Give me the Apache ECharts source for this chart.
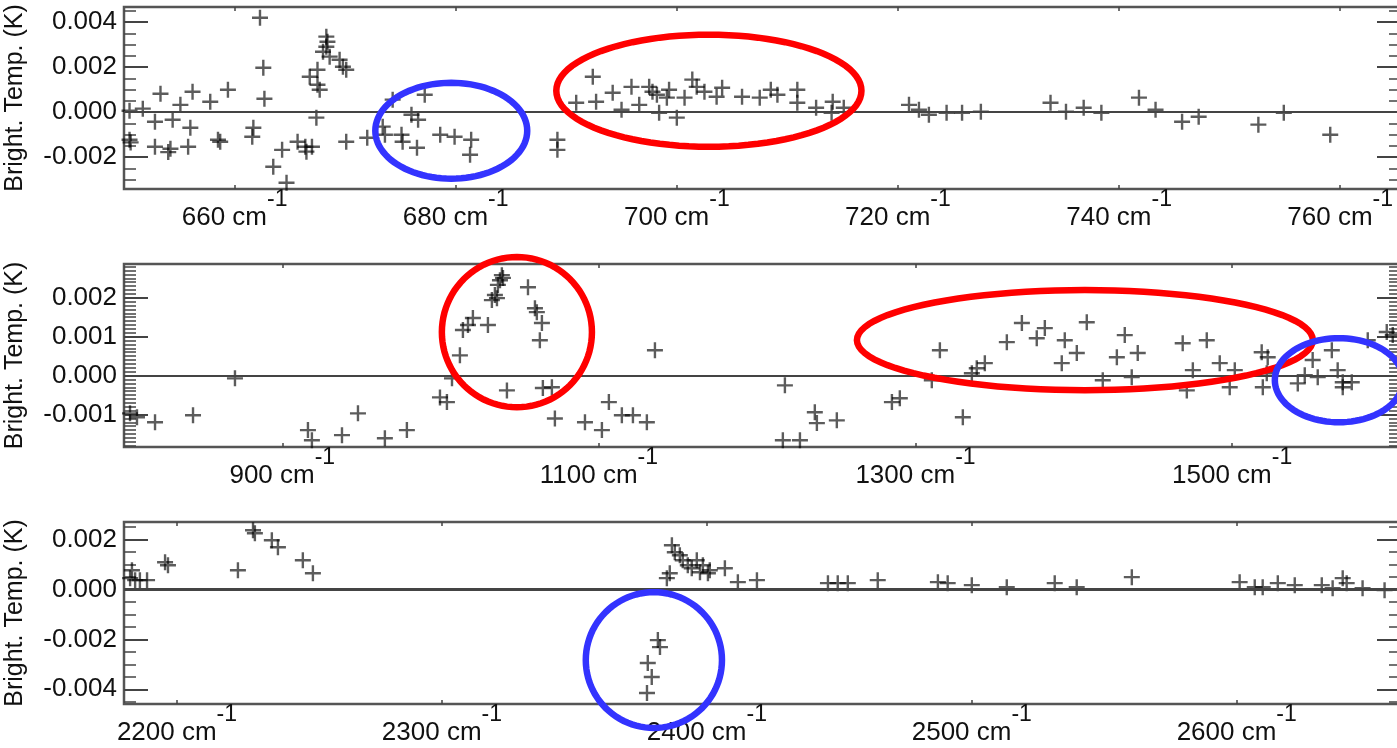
<!DOCTYPE html>
<html><head><meta charset="utf-8">
<script src="https://cdn.jsdelivr.net/npm/echarts@6/dist/echarts.min.js"></script>
<style>html,body{margin:0;padding:0;background:#fff}#c{width:1397px;height:748px}</style>
</head><body><div id="c"></div>
<script>
// ---------- Panel 1 (650-765 cm-1) ----------
const p1Wn = [650.5,651.7,650.5,650.6,653.3,652.8,652.8,654.2,654.0,654.4,655.1,656.0,655.8,656.2,657.8,659.4,658.5,658.7,661.7,661.6,
  662.3,662.6,662.7,663.5,664.3,664.7,665.7,666.4,666.5,667.0,666.8,667.5,667.7,667.5,667.4,668.3,668.4,668.3,668.0,668.6,
  669.5,669.8,670.1,670.1,672.0,673.4,673.6,674.3,675.1,675.2,676.0,676.6,676.5,677.2,678.6,679.9,681.4,681.3,689.2,689.2,
  690.9,692.4,692.7,694.2,695.0,695.9,696.6,697.5,697.8,698.2,698.4,699.1,699.3,700.0,700.7,701.4,701.8,702.5,703.6,704.1,
  705.9,707.5,708.5,709.1,710.9,710.9,712.6,714.1,714.0,715.1,721.0,721.9,722.8,724.4,725.8,727.5,733.8,735.2,736.8,738.4,
  741.8,743.3,745.7,747.2,752.6,754.9,759.1];
const p1Dt = [0.00006,0.00015,-0.00123,-0.00135,0.00081,-0.00043,-0.00154,-0.00163,-0.00178,-0.00034,0.00032,-0.00070,-0.00154,0.00090,0.00046,0.00099,-0.00123,-0.00132,-0.00070,-0.00110,
  0.00419,0.00197,0.00059,-0.00243,-0.00168,-0.00314,-0.00132,-0.00154,-0.00176,-0.00154,0.00157,0.00121,0.00099,0.00188,-0.00025,0.00335,0.00312,0.00290,0.00268,0.00246,
  0.00232,0.00201,0.00188,-0.00132,-0.00114,-0.00065,-0.00101,0.00055,-0.00101,-0.00132,-0.00012,-0.00034,-0.00159,0.00077,-0.00101,-0.00110,-0.00123,-0.00190,-0.00123,-0.00168,
  0.00041,0.00157,0.00046,0.00086,0.00010,0.00112,0.00032,0.00112,0.00090,0.00077,-0.00003,0.00064,0.00099,-0.00025,0.00064,0.00144,0.00112,0.00090,0.00068,0.00108,
  0.00068,0.00064,0.00099,0.00077,0.00099,0.00041,0.00019,0.00046,-0.00003,0.00019,0.00032,0.00010,-0.00012,-0.00003,-0.00003,0.00001,0.00041,0.00001,0.00019,-0.00003,
  0.00064,0.00010,-0.00043,-0.00021,-0.00056,-0.00003,-0.00101];
const p1XTicks = [660,680,700,720,740,760];
const p1YTicks = [-0.002,0,0.002,0.004];

// ---------- Panel 2 (800-1605 cm-1) ----------
const p2Wn = [803.8,808.2,819.6,843.6,870.1,916.2,918.7,937.7,947.8,964.8,978.7,999.6,1004.0,1007.2,1012.2,1014.1,1017.3,1020.4,1029.9,1032.4,
  1034.3,1035.6,1036.2,1037.5,1038.7,1039.4,1041.9,1055.2,1059.6,1060.8,1064.0,1062.7,1064.6,1070.3,1072.2,1091.2,1101.9,1106.3,1114.5,1121.5,
  1130.3,1135.4,1217.5,1216.2,1227.0,1236.4,1237.7,1250.3,1285.1,1290.1,1310.3,1315.4,1329.9,1335.6,1338.7,1343.8,1357.7,1367.2,1376.6,1381.7,
  1392.4,1394.3,1401.9,1408.2,1418.3,1427.2,1432.2,1436.6,1440.4,1468.8,1471.4,1475.2,1484.0,1492.2,1498.5,1501.7,1518.7,1519.4,1522.5,1521.9,
  1541.5,1545.9,1550.9,1554.1,1563.0,1566.7,1569.9,1575.6,1569.9,1585.7,1597.7,1601.5];
const p2Dt = [-0.00097,-0.00107,-0.00120,-0.00102,-0.00007,-0.00140,-0.00166,-0.00153,-0.00097,-0.00161,-0.00140,-0.00056,-0.00068,-0.00007,0.00052,0.00117,0.00130,0.00148,0.00130,0.00194,
  0.00207,0.00199,0.00233,0.00245,0.00258,0.00251,-0.00038,0.00227,0.00173,0.00163,0.00135,0.00091,-0.00032,-0.00030,-0.00110,-0.00120,-0.00140,-0.00068,-0.00102,-0.00102,
  -0.00120,0.00065,-0.00025,-0.00166,-0.00166,-0.00094,-0.00122,-0.00115,-0.00068,-0.00058,-0.00012,0.00065,-0.00107,0.00006,0.00019,0.00032,0.00086,0.00135,0.00096,0.00122,
  0.00032,0.00091,0.00058,0.00137,-0.00012,0.00047,0.00104,-0.00004,0.00058,0.00083,-0.00038,0.00014,0.00091,0.00032,-0.00030,0.00014,0.00060,-0.00030,0.00047,0.00006,
  -0.00020,0.00001,0.00040,-0.00004,0.00065,0.00014,-0.00017,-0.00017,-0.00030,0.00091,0.00112,0.00104];
const p2XTicks = [900,1100,1300,1500];
const p2YTicks = [-0.001,0,0.001,0.002];

// ---------- Panel 3 (2180-2662 cm-1) ----------
const p3Wn = [2182.3,2184.2,2186.0,2188.7,2183.0,2195.5,2196.6,2223.0,2228.7,2229.4,2235.8,2238.1,2247.5,2251.3,2377.4,2379.2,2377.7,2381.5,2382.3,2384.9,
  2386.0,2386.8,2387.9,2389.8,2390.9,2392.8,2394.3,2396.2,2397.4,2398.5,2400.4,2401.1,2406.8,2411.7,2418.9,2445.7,2449.4,2453.2,2464.5,2487.2,
  2490.9,2500.0,2513.2,2531.3,2539.6,2560.4,2601.1,2606.8,2609.8,2615.5,2621.9,2632.1,2636.2,2640.0,2641.5,2647.5,2655.8];
const p3Dt = [0.00045,0.00037,0.00037,0.00037,0.00077,0.00109,0.00097,0.00077,0.00237,0.00225,0.00197,0.00169,0.00117,0.00065,-0.00415,-0.00351,-0.00295,-0.00203,-0.00231,0.00045,
  0.00065,0.00177,0.00149,0.00137,0.00117,0.00097,0.00085,0.00117,0.00069,0.00097,0.00065,0.00077,0.00085,0.00029,0.00037,0.00025,0.00025,0.00025,0.00037,0.00029,
  0.00025,0.00017,0.00009,0.00025,0.00009,0.00049,0.00029,0.00009,0.00009,0.00025,0.00017,0.00017,0.00005,0.00045,0.00025,0.00005,-0.00003];
const p3XTicks = [2200,2300,2400,2500,2600];
const p3YTicks = [-0.004,-0.002,0,0.002];

// annotation ellipses: [centre wavenumber, centre dT, half-width (cm-1), half-height (K)]
const p1Marks = [[679.6,-0.00083,6.87,0.00213],[702.9,0.000947,13.8,0.00249]];
const p1MarkColors = ['#3333ff','#ff0000'];
const p2Marks = [[1048.2,0.001117,47.4,0.00193],[1407,0.000911,144,0.001286],[1567.5,-0.000118,40.5,0.00108]];
const p2MarkColors = ['#ff0000','#ff0000','#3333ff'];
const p3Marks = [[2380,-0.00283,25.7,0.00272]];
const p3MarkColors = ['#3333ff'];

const FONT = 'Liberation Sans';
const PLUS = 'path://M0,6.8H16V9.2H0Z M6.8,0H9.2V16H6.8Z';

function range(a, b, step){ const r=[]; for(let v=a; v<=b+step/1000; v+=step){ r.push(+v.toFixed(6)); } return r; }

const panels = [
  {wn:p1Wn, dt:p1Dt, xt:p1XTicks, yt:p1YTicks, xmin:650, xmax:765.5, ymin:-0.00342, ymax:0.004667, minor:range(-0.0035,0.0045,0.0005),
   marks:p1Marks, colors:p1MarkColors, top:7, height:182, zw:2},
  {wn:p2Wn, dt:p2Dt, xt:p2XTicks, yt:p2YTicks, xmin:800, xmax:1606.7, ymin:-0.001834, ymax:0.002867, minor:range(-0.0018,0.0028,0.0001),
   marks:p2Marks, colors:p2MarkColors, top:264, height:183, zw:2},
  {wn:p3Wn, dt:p3Dt, xt:p3XTicks, yt:p3YTicks, xmin:2180, xmax:2662, ymin:-0.00459, ymax:0.0027, minor:range(-0.0045,0.0025,0.0005),
   marks:p3Marks, colors:p3MarkColors, top:522, height:182, zw:3}
];

const grid=[], xAxis=[], yAxis=[], series=[];
panels.forEach((p, i) => {
  grid.push({left:124, top:p.top, width:1277, height:p.height, show:true, borderColor:'#555', borderWidth:2.5,
    backgroundColor:'transparent', containLabel:false, outerBoundsMode:'none'});
  const xi = xAxis.length;
  xAxis.push({type:'value', gridIndex:i, position:'bottom', min:p.xmin, max:p.xmax,
    axisLine:{show:false, onZero:false}, splitLine:{show:false},
    axisTick:{show:true, inside:true, length:4, customValues:p.xt, lineStyle:{color:'#444', width:1.5}},
    axisLabel:{show:true, customValues:p.xt, margin:-1, formatter:v => '{a|' + v + ' cm}{b|-1}',
      rich:{a:{fontFamily:FONT, fontSize:26, color:'#111', verticalAlign:'bottom'},
            b:{fontFamily:FONT, fontSize:23, color:'#111', verticalAlign:'bottom', padding:[0,0,20,0]}}}});
  xAxis.push({type:'value', gridIndex:i, position:'top', min:p.xmin, max:p.xmax,
    axisLine:{show:false, onZero:false}, splitLine:{show:false}, axisLabel:{show:false},
    axisTick:{show:true, inside:true, length:4, customValues:p.xt, lineStyle:{color:'#444', width:1.5}}});
  const yi = yAxis.length;
  yAxis.push({type:'value', gridIndex:i, position:'left', min:p.ymin, max:p.ymax,
    name:'Bright. Temp. (K)', nameLocation:'middle', nameGap:96, nameRotate:90,
    nameTextStyle:{fontFamily:FONT, fontSize:25, color:'#111'},
    axisLine:{show:false, onZero:false}, splitLine:{show:false},
    axisTick:{show:true, inside:true, length:24, customValues:p.yt, lineStyle:{color:'#444', width:2}},
    axisLabel:{show:true, customValues:p.yt, margin:7, fontFamily:FONT, fontSize:26, color:'#111', formatter:v => v.toFixed(3)}});
  yAxis.push({type:'value', gridIndex:i, position:'left', min:p.ymin, max:p.ymax,
    axisLine:{show:false, onZero:false}, splitLine:{show:false}, axisLabel:{show:false},
    axisTick:{show:true, inside:true, length:12, customValues:p.minor, lineStyle:{color:'#444', width:1.5}}});
  yAxis.push({type:'value', gridIndex:i, position:'right', min:p.ymin, max:p.ymax,
    axisLine:{show:false, onZero:false}, splitLine:{show:false}, axisLabel:{show:false},
    axisTick:{show:true, inside:true, length:24, customValues:p.yt, lineStyle:{color:'#444', width:2}}});
  yAxis.push({type:'value', gridIndex:i, position:'right', min:p.ymin, max:p.ymax,
    axisLine:{show:false, onZero:false}, splitLine:{show:false}, axisLabel:{show:false},
    axisTick:{show:true, inside:true, length:12, customValues:p.minor, lineStyle:{color:'#444', width:1.5}}});

  series.push({type:'scatter', xAxisIndex:xi, yAxisIndex:yi, symbol:PLUS, symbolSize:16,
    itemStyle:{color:'rgba(0,0,0,0.8)'}, z:3, silent:true,
    data:p.wn.map((w,k)=>[w,p.dt[k]]),
    markLine:{silent:true, symbol:'none', label:{show:false}, lineStyle:{color:'#444', width:p.zw, type:'solid'},
      data:[{yAxis:0}]}});
  const cols = p.colors;
  series.push({type:'custom', xAxisIndex:xi, yAxisIndex:yi, z:10, silent:true, clip:false,
    data:p.marks,
    encode:{x:0, y:1},
    renderItem:(params, api) => {
      const c = api.coord([api.value(0), api.value(1)]);
      const s = api.size([api.value(2), api.value(3)], [api.value(0), api.value(1)]);
      const rx = Math.abs(s[0]), ry = Math.abs(s[1]);
      const pts = [];
      for (let k=0;k<96;k++){ const t=k/96*Math.PI*2; pts.push([c[0]+rx*Math.cos(t), c[1]+ry*Math.sin(t)]); }
      return {type:'polygon', shape:{points:pts}, style:{fill:'none', stroke:cols[params.dataIndex], lineWidth:6.5}};
    }});
});

const chart = echarts.init(document.getElementById('c'), null, {renderer:'canvas'});
chart.setOption({animation:false, backgroundColor:'#fff', grid, xAxis, yAxis, series});
</script></body></html>
